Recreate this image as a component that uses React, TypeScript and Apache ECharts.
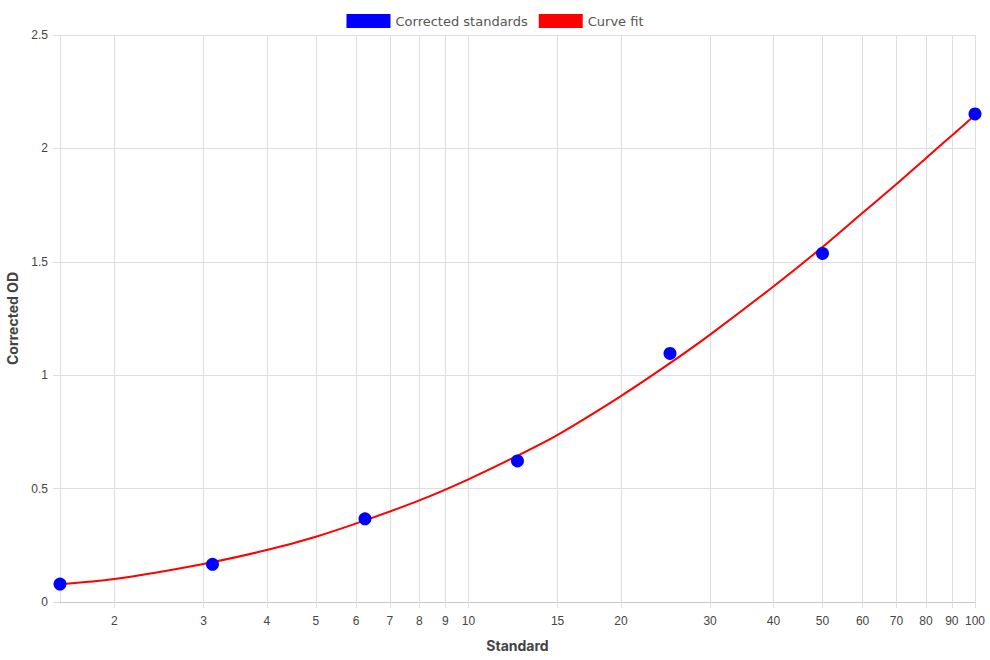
import React, { useEffect, useRef } from "react";
import * as echarts from "echarts";

// Standards (x) and corrected OD (y)
const standardX = [1.5625, 3.125, 6.25, 12.5, 25, 50, 100];
const standardY = [0.079, 0.166, 0.367, 0.622, 1.096, 1.537, 2.152];

// Curve fit sampled along the x axis
const curveX = [1.5625, 2, 3, 4, 5, 6.25, 8, 10, 12.5, 15, 20, 25, 30, 40, 50, 60, 70, 80, 90, 100];
const curveY = [0.078, 0.101, 0.168, 0.229, 0.288, 0.36, 0.448, 0.541, 0.645, 0.737, 0.908, 1.053, 1.179, 1.391, 1.565, 1.716, 1.843, 1.957, 2.057, 2.147];

// X tick labels (log scale)
const xTicks = [2, 3, 4, 5, 6, 7, 8, 9, 10, 15, 20, 30, 40, 50, 60, 70, 80, 90, 100];

const X_MIN = 1.5625;
const X_MAX = 100;

export default function App() {
  const ref = useRef<HTMLDivElement>(null);
  useEffect(() => {
    if (!ref.current) return;
    const chart = echarts.init(ref.current, null, { renderer: "svg" });
    const tickLog = xTicks.map((v) => Math.log10(v));
    const gridColor = "#dedede";
    chart.setOption({
      animation: false,
      legend: {
        top: 9,
        left: "center",
        itemWidth: 44,
        itemHeight: 14,
        itemGap: 11,
        textStyle: { fontFamily: "DejaVu Sans", fontSize: 13, color: "#555" },
        data: [
          { name: "Corrected standards", icon: "rect", itemStyle: { color: "#0000ff" } },
          { name: "Curve fit", icon: "rect", itemStyle: { color: "#ff0000" } },
        ],
      },
      grid: { left: 60, right: 15, top: 35, bottom: 58, containLabel: false, outerBoundsMode: "none" },
      xAxis: {
        type: "value",
        min: Math.log10(X_MIN),
        max: Math.log10(X_MAX),
        name: "Standard",
        nameLocation: "middle",
        nameGap: 36,
        nameTextStyle: { fontFamily: "Inter", fontWeight: "bold", fontSize: 14, color: "#444" },
        axisLine: { show: true, lineStyle: { color: "#c8c8c8", width: 1 } },
        axisTick: { show: true, length: 6, lineStyle: { color: gridColor }, customValues: tickLog },
        axisLabel: {
          customValues: tickLog,
          formatter: (v: number) => String(Math.round(Math.pow(10, v))),
          fontFamily: "Liberation Sans",
          fontSize: 12,
          color: "#444",
          margin: 13,
        },
        splitLine: { show: true, lineStyle: { color: gridColor, width: 1 } },
      },
      yAxis: {
        type: "value",
        min: 0,
        max: 2.5,
        interval: 0.5,
        name: "Corrected OD",
        nameLocation: "middle",
        nameGap: 41,
        nameTextStyle: { fontFamily: "Inter", fontWeight: "bold", fontSize: 14, color: "#444" },
        axisLine: { show: true, lineStyle: { color: gridColor, width: 1 } },
        axisTick: { show: true, length: 7, lineStyle: { color: gridColor } },
        axisLabel: { fontFamily: "Liberation Sans", fontSize: 12, color: "#444", margin: 12 },
        splitLine: { show: true, lineStyle: { color: gridColor, width: 1 } },
      },
      series: [
        {
          name: "Curve fit",
          type: "line",
          smooth: 0.3,
          showSymbol: false,
          symbol: "none",
          lineStyle: { color: "#ff0000", width: 2 },
          itemStyle: { color: "#ff0000" },
          data: curveX.map((x, i) => [Math.log10(x), curveY[i]]),
          z: 2,
        },
        {
          name: "Corrected standards",
          type: "scatter",
          symbolSize: 13,
          itemStyle: { color: "#0000ff", opacity: 1 },
          data: standardX.map((x, i) => [Math.log10(x), standardY[i]]),
          z: 3,
        },
      ],
    });
    return () => chart.dispose();
  }, []);
  return <div ref={ref} style={{ width: 990, height: 660, position: "absolute", left: 0, top: 0 }} />;
}
